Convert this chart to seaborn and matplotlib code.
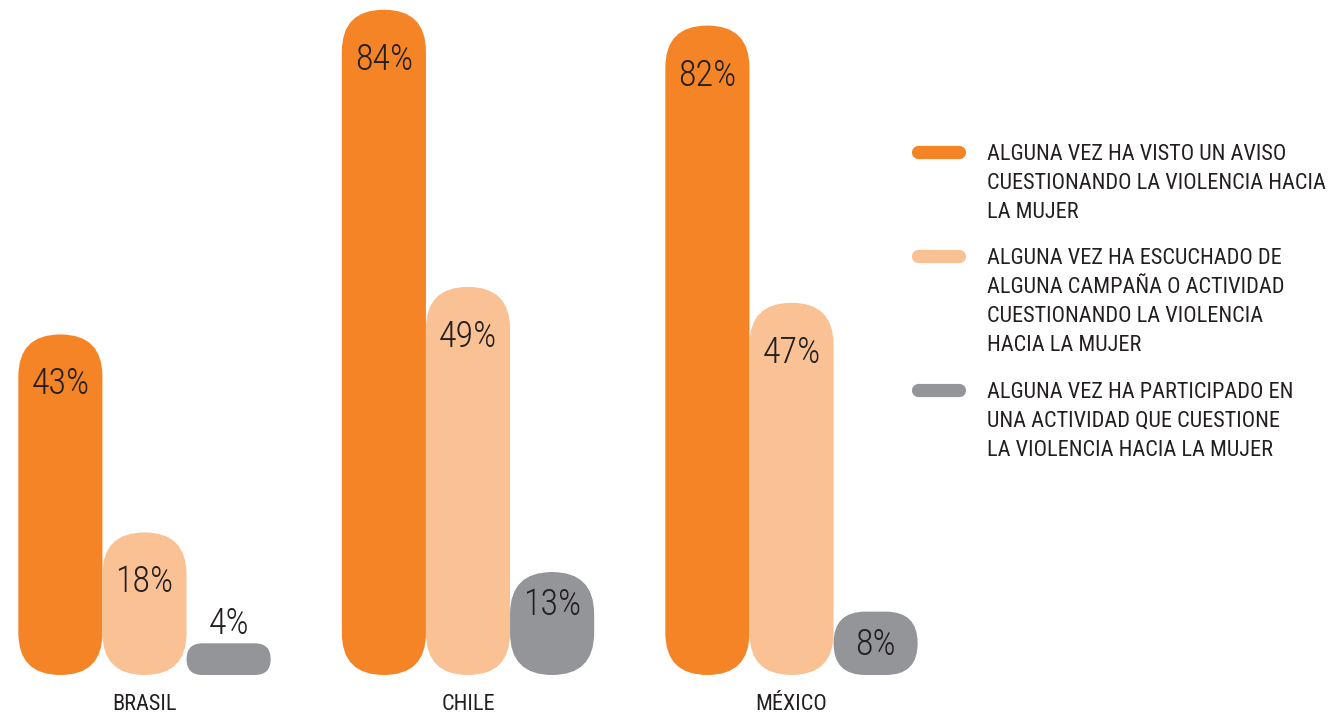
import numpy as np
import pandas as pd
import seaborn as sns
import matplotlib
matplotlib.use("Agg")
import matplotlib.pyplot as plt
from matplotlib.patches import FancyBboxPatch
from matplotlib.lines import Line2D

# data
paises = ["BRASIL", "CHILE", "MÉXICO"]
series = [
    "ALGUNA VEZ HA VISTO UN AVISO\nCUESTIONANDO LA VIOLENCIA HACIA\nLA MUJER",
    "ALGUNA VEZ HA ESCUCHADO DE\nALGUNA CAMPAÑA O ACTIVIDAD\nCUESTIONANDO LA VIOLENCIA\nHACIA LA MUJER",
    "ALGUNA VEZ HA PARTICIPADO EN\nUNA ACTIVIDAD QUE CUESTIONE\nLA VIOLENCIA HACIA LA MUJER",
]
visto_aviso = [43, 84, 82]
escucho_campana = [18, 49, 47]
participo = [4, 13, 8]
colores = ["#F58426", "#F9C194", "#939598"]

df = pd.DataFrame({
    "pais": paises * 3,
    "serie": [s for s in series for _ in paises],
    "valor": visto_aviso + escucho_campana + participo,
})

sns.set_style("white")
plt.rcParams["font.family"] = ["Roboto Condensed", "Roboto", "DejaVu Sans"]
TXT = "#231f20"

W, H = 1337, 718
fig = plt.figure(figsize=(W / 100, H / 100), dpi=100)
AXW = 940
ax = fig.add_axes([0, 43 / H, AXW / W, 675 / H])

sns.barplot(data=df, x="pais", y="valor", hue="serie", palette=colores,
            width=0.78, gap=0, legend=False, saturation=1, ax=ax)

xlim = (-144.5 / 323.5, (AXW - 144.5) / 323.5)
ylim = (0, 675 / 7.92)
ax.set_xlim(*xlim)
ax.set_ylim(*ylim)
sx = AXW / (xlim[1] - xlim[0])
sy = 675 / (ylim[1] - ylim[0])

# swap the flat bars for rounded (pill) bars
bars = list(ax.patches)
for p in bars:
    x0, w, h = p.get_x(), p.get_width(), p.get_height()
    fc = p.get_facecolor()
    p.remove()
    r_px = min(w * sx, h * sy) / 2
    rb = FancyBboxPatch((x0, 0), w, h,
                        boxstyle=f"round,pad=0,rounding_size={r_px / sx}",
                        mutation_aspect=sx / sy, fc=fc, ec="none", clip_on=False)
    ax.add_patch(rb)
    v = round(h)
    cx = x0 + w / 2
    if v >= 15:
        ty = h - 50 / sy
    elif v >= 6:
        ty = h - 33 / sy
    else:
        ty = h + 19 / sy
    ax.text(cx, ty, f"{v}%", ha="center", va="center", fontsize=26,
            fontweight="light", color=TXT)

sns.despine(ax=ax, left=True, bottom=True)
ax.set_yticks([])
ax.set_xlabel("")
ax.set_ylabel("")
ax.tick_params(axis="x", length=0, pad=14, labelsize=16, labelcolor=TXT)

# legend drawn by hand
marker_y = [152, 256, 390]
for lab, col, my in zip(series, colores, marker_y):
    fig.add_artist(Line2D([918 / W, 959 / W], [1 - my / H, 1 - my / H],
                          color=col, lw=9.5, solid_capstyle="round",
                          transform=fig.transFigure))
    fig.text(987 / W, 1 - (my - 8) / H, lab, ha="left", va="top",
             fontsize=16, color=TXT, linespacing=1.5)

fig.savefig("out.png", dpi=100)
